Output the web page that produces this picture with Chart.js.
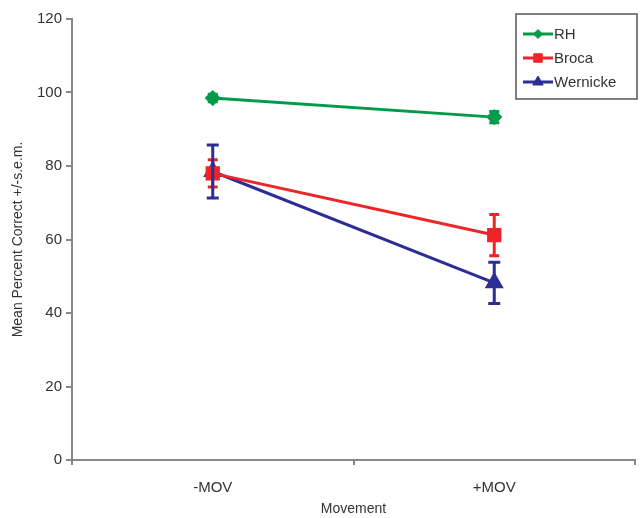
<!DOCTYPE html>
<html>
<head>
<meta charset="utf-8">
<script src="https://cdn.jsdelivr.net/npm/chart.js@4"></script>
<style>
    html, body { margin: 0; padding: 0; background: #fff; }
    #wrap { width: 641px; height: 518px; }
</style>
</head>
<body>
<div id="wrap"><canvas id="chart" width="641" height="518"></canvas></div>
<script>
const categories = ['-MOV', '+MOV'];
const rhValues = [98.5, 93.3];
const rhErrors = [1.0, 1.5];
const brocaValues = [78.0, 61.2];
const brocaErrors = [3.7, 5.6];
const wernickeValues = [78.5, 48.2];
const wernickeErrors = [7.2, 5.6];
const yTicks = [0, 20, 40, 60, 80, 100, 120];

const GREEN = 'rgb(0,155,72)';
const RED = 'rgb(238,36,40)';
const BLUE = 'rgb(44,46,148)';

Chart.defaults.font.family = '"Liberation Sans", Arial, sans-serif';
Chart.defaults.color = '#333';

// error bars drawn from the errors arrays through the scales
const errorBars = {
    id: 'errorBars',
    afterDatasetsDraw(chart) {
        const ctx = chart.ctx;
        const y = chart.scales.y;
        chart.data.datasets.forEach((ds, i) => {
            const meta = chart.getDatasetMeta(i);
            ctx.save();
            ctx.strokeStyle = ds.borderColor;
            ctx.lineWidth = 3;
            meta.data.forEach((pt, j) => {
                const err = ds.errors[j];
                const top = y.getPixelForValue(ds.data[j] + err);
                const bot = y.getPixelForValue(ds.data[j] - err);
                const w = ds.capWidth;
                ctx.beginPath();
                ctx.moveTo(pt.x, top);
                ctx.lineTo(pt.x, bot);
                ctx.moveTo(pt.x - w, top);
                ctx.lineTo(pt.x + w, top);
                ctx.moveTo(pt.x - w, bot);
                ctx.lineTo(pt.x + w, bot);
                ctx.stroke();
            });
            ctx.restore();
        });
    }
};

const boxLegend = {
    id: 'boxLegend',
    afterDraw(chart) {
        const ctx = chart.ctx;
        const x0 = 516, y0 = 14, w = 121, h = 85;
        ctx.save();
        ctx.fillStyle = '#fff';
        ctx.fillRect(x0, y0, w, h);
        ctx.strokeStyle = '#555';
        ctx.lineWidth = 1.5;
        ctx.strokeRect(x0, y0, w, h);
        ctx.font = '15px "Liberation Sans", Arial, sans-serif';
        ctx.textBaseline = 'middle';
        chart.data.datasets.forEach((ds, i) => {
            const yy = y0 + 20 + i * 24;
            ctx.strokeStyle = ds.borderColor;
            ctx.fillStyle = ds.borderColor;
            ctx.lineWidth = 3;
            ctx.beginPath();
            ctx.moveTo(x0 + 7, yy);
            ctx.lineTo(x0 + 37, yy);
            ctx.stroke();
            ctx.lineWidth = 1;
            Chart.helpers.drawPoint(ctx, {
                pointStyle: ds.pointStyle,
                radius: ds.pointRadius * 0.75,
                borderWidth: 1
            }, x0 + 22, yy);
            ctx.fillStyle = '#333';
            ctx.fillText(ds.label, x0 + 38, yy + 1);
        });
        ctx.restore();
    }
};

function pointOpts(color) {
    return { borderColor: color, backgroundColor: color, pointBackgroundColor: color, pointBorderColor: color };
}

new Chart(document.getElementById('chart'), {
    type: 'line',
    data: {
        labels: categories,
        datasets: [
            { label: 'RH', data: rhValues, errors: rhErrors, capWidth: 5,
              pointStyle: 'rectRot', pointRadius: 6, borderWidth: 3, ...pointOpts(GREEN) },
            { label: 'Broca', data: brocaValues, errors: brocaErrors, capWidth: 5,
              pointStyle: 'rect', pointRadius: 8, borderWidth: 3, ...pointOpts(RED) },
            { label: 'Wernicke', data: wernickeValues, errors: wernickeErrors, capWidth: 6,
              pointStyle: 'triangle', pointRadius: 8, borderWidth: 3, ...pointOpts(BLUE) }
        ]
    },
    options: {
        responsive: false,
        animation: false,
        layout: { autoPadding: false, padding: { top: 19, right: 6, left: 0, bottom: 0 } },
        plugins: { legend: { display: false }, tooltip: { enabled: false } },
        scales: {
            x: {
                type: 'category',
                offset: true,
                afterFit: s => { s.height = 58; },
                grid: { offset: true, drawOnChartArea: false, tickLength: 5, color: '#888', lineWidth: 2 },
                border: { color: '#888', width: 2 },
                ticks: { font: { size: 15 }, padding: 14, color: '#333' },
                title: { display: true, text: 'Movement', font: { size: 14 }, color: '#333', padding: { top: 0, bottom: 0 } }
            },
            y: {
                min: 0,
                max: 120,
                afterFit: s => { s.width = 72; },
                afterBuildTicks: s => { s.ticks = yTicks.map(v => ({ value: v })); },
                grid: { drawOnChartArea: false, tickLength: 6, color: '#888', lineWidth: 2 },
                border: { color: '#888', width: 2 },
                ticks: { font: { size: 15 }, padding: 4, color: '#333' },
                title: { display: true, text: 'Mean Percent Correct +/-s.e.m.', font: { size: 14 }, color: '#333', padding: { top: 10, bottom: 2 } }
            }
        }
    },
    plugins: [errorBars, boxLegend]
});
</script>
</body>
</html>
